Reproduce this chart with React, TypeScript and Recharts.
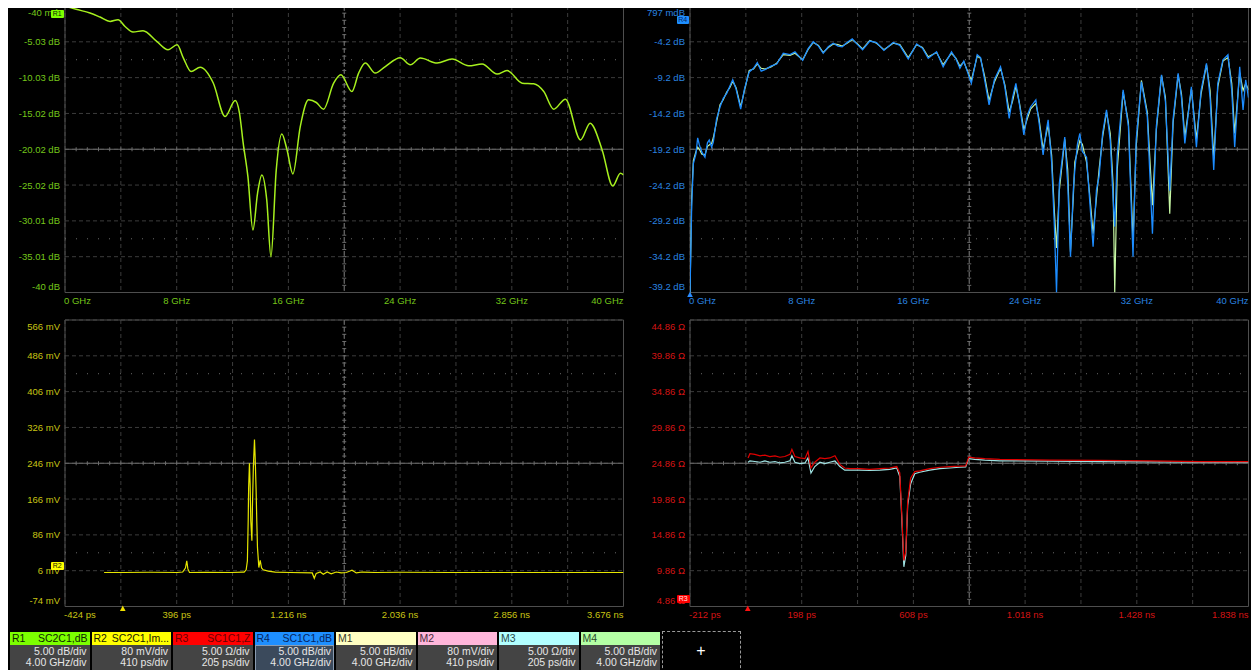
import { LineChart, Line, XAxis, YAxis, CartesianGrid, ReferenceLine, ReferenceArea } from 'recharts';

const FONT = '"Liberation Sans", Arial, sans-serif';

// plot area size shared by all four grids
const PLOT_W = 558.5;
const PLOT_H = 286.5;
const PAD_L = 60;
const PAD_T = 10;
const PAD_R = 6;
const PAD_B = 20;

// R1: SC2C1 magnitude, dB vs GHz
const r1Freq = [0, 0.8, 1.79, 2.51, 3.23, 3.8, 4.3, 4.87, 5.59, 6.57, 7.38, 8.03, 8.48, 9.03, 9.68, 10.61, 11.47, 12.19, 12.5, 12.76, 13.1, 13.46, 13.79, 14.1, 14.45, 14.75, 15.13, 15.53, 15.9, 16.32, 16.85, 17.44, 18.0, 18.52, 19.24, 19.76, 20.55, 21.03, 21.51, 22.22, 22.94, 24.01, 24.73, 25.45, 26.65, 27.72, 28.91, 29.87, 30.95, 31.66, 32.74, 33.57, 34.29, 35.0, 35.84, 36.92, 37.61, 38.47, 39.23, 39.78, 40];
const r1Db = [-0.05, -0.5, -1.02, -1.58, -2.19, -1.96, -2.9, -3.67, -3.49, -4.98, -6.15, -5.45, -7.3, -9.18, -8.59, -10.75, -15.46, -13.23, -15.0, -19.13, -23.84, -31.28, -26.16, -23.6, -27.1, -35.0, -22.9, -17.88, -20.1, -23.46, -16.86, -13.13, -13.5, -14.43, -10.8, -9.64, -11.97, -9.4, -8.0, -9.4, -8.48, -7.26, -8.24, -7.3, -8.0, -7.44, -8.38, -8.14, -9.54, -9.04, -10.8, -10.89, -11.97, -14.43, -13.03, -18.72, -16.38, -20.11, -25.14, -23.37, -23.6];

// R4 and M4: SC1C1 magnitude, dB vs GHz
const r4Freq = [0, 0.12, 0.24, 0.43, 0.55, 0.67, 0.85, 1.07, 1.25, 1.38, 1.55, 1.67, 1.9, 2.15, 2.38, 2.63, 2.85, 3.06, 3.3, 3.63, 3.9, 4.24, 4.55, 4.82, 5.1, 5.37, 5.8, 6.21, 6.68, 7.16, 7.52, 8.07, 8.45, 8.83, 9.2, 9.54, 9.9, 10.26, 10.6, 10.9, 11.25, 11.62, 12.0, 12.36, 12.88, 13.36, 13.89, 14.55, 15.03, 15.63, 16.23, 16.65, 17.06, 17.66, 18.13, 18.73, 19.05, 19.33, 19.61, 20.15, 20.57, 20.81, 21.1, 21.42, 21.8, 22.24, 22.55, 22.86, 23.1, 23.34, 23.6, 23.91, 24.15, 24.39, 24.77, 25.0, 25.29, 25.5, 25.65, 25.9, 26.1, 26.25, 26.45, 26.84, 27.05, 27.25, 27.45, 27.56, 27.75, 27.92, 28.1, 28.4, 28.65, 28.87, 29.11, 29.3, 29.55, 29.83, 30.1, 30.3, 30.42, 30.6, 31.02, 31.4, 31.73, 31.95, 32.33, 32.75, 33.12, 33.4, 33.77, 34.05, 34.36, 34.6, 34.96, 35.2, 35.44, 35.91, 36.27, 36.6, 36.99, 37.25, 37.51, 37.8, 38.17, 38.53, 38.8, 39.01, 39.37, 39.61, 39.8, 40];
const r4Db = [-39.2, -27.2, -21.2, -19.8, -17.6, -18.6, -19.6, -20.3, -18.3, -17.9, -18.9, -18.2, -15.0, -13.3, -12.1, -11.4, -10.4, -9.5, -10.8, -13.6, -10.8, -8.4, -7.9, -7.1, -8.3, -8.1, -7.6, -7.3, -5.8, -6.0, -5.6, -6.8, -5.2, -4.2, -4.8, -5.8, -4.9, -4.4, -4.8, -4.9, -4.3, -3.8, -4.6, -5.3, -4.1, -4.3, -5.4, -4.3, -4.7, -6.6, -4.5, -5.1, -6.5, -5.6, -7.7, -5.6, -6.6, -7.9, -6.9, -10.0, -6.0, -6.4, -9.5, -13.0, -9.5, -7.7, -10.5, -14.9, -12.0, -10.0, -13.0, -17.2, -14.5, -13.3, -12.3, -15.5, -20.0, -16.8, -15.1, -21.0, -30.0, -39.2, -24.0, -17.5, -24.0, -34.2, -25.0, -22.1, -18.5, -17.0, -19.5, -20.3, -27.0, -32.8, -24.9, -23.0, -17.0, -13.7, -18.0, -26.0, -30.0, -20.0, -10.9, -16.0, -34.2, -18.0, -9.8, -14.5, -31.0, -16.0, -8.8, -12.5, -25.0, -15.0, -8.6, -12.0, -18.4, -10.5, -18.9, -11.0, -7.2, -12.0, -22.1, -10.0, -6.7, -6.0, -11.0, -18.9, -7.7, -13.7, -9.5, -12.0];
const m4Db = [-39.2, -26.0, -20.8, -19.5, -18.9, -19.2, -19.9, -20.0, -18.8, -18.6, -18.4, -17.6, -15.4, -13.0, -12.3, -11.2, -10.6, -9.7, -10.6, -13.3, -11.0, -8.2, -8.0, -7.3, -7.9, -8.0, -7.7, -7.2, -6.0, -6.1, -5.8, -6.7, -5.3, -4.3, -4.7, -5.7, -5.0, -4.5, -4.6, -4.8, -4.4, -3.9, -4.5, -5.2, -4.0, -4.4, -5.3, -4.4, -4.6, -6.4, -4.6, -5.0, -6.3, -5.7, -7.4, -5.8, -6.5, -7.6, -7.0, -9.6, -6.2, -6.5, -9.0, -12.4, -9.8, -7.9, -10.2, -14.0, -12.5, -10.4, -12.8, -16.5, -15.0, -13.6, -12.8, -15.0, -19.2, -17.2, -15.8, -20.0, -28.0, -33.0, -25.0, -17.8, -22.0, -33.5, -26.0, -21.0, -19.5, -18.0, -18.5, -21.0, -26.0, -31.0, -26.0, -22.0, -17.5, -14.0, -17.0, -24.0, -39.2, -22.0, -11.2, -15.5, -32.0, -19.0, -9.6, -14.0, -27.0, -16.5, -8.9, -12.0, -28.2, -15.5, -8.8, -11.5, -17.5, -10.8, -17.8, -11.5, -7.4, -11.0, -20.5, -10.5, -6.9, -6.4, -10.0, -17.0, -8.5, -11.0, -10.0, -10.9];

// R2: SC2C1 impulse response, mV vs ps
const r2Time = [-137, 0, 200, 400, 440, 460, 470, 478, 490, 600, 800, 880, 891, 906, 915, 921, 924, 930, 935, 940, 948, 952, 959, 967, 972, 979, 984, 989, 999, 1009, 1019, 1031, 1068, 1119, 1229, 1391, 1406, 1420, 1450, 1472, 1501, 1530, 1567, 1604, 1641, 1683, 1714, 1758, 1854, 2038, 2405, 2772, 3140, 3676];
const r2Mv = [2, 2, 2.5, 2, 3, 12, 28, 10, 2, 2.5, 2, 3, 3, 8, 28, 120, 190, 246, 200, 117, 73, 150, 240, 299, 260, 185, 117, 58, 13, 29, 12, 8, 5, 3, 2, 1, -11, 0, 3, -2, 3, -1, 3, 1, 2, 7, 1, 3, 2, 2.5, 2, 2, 2, 2];

// R3 and M3: SC1C1 impedance profile, ohm vs ps
const r3Time = [1, 8, 26, 45, 63, 81, 100, 118, 136, 155, 162, 173, 191, 210, 221, 232, 246, 265, 283, 301, 320, 338, 356, 375, 411, 448, 485, 521, 547, 558, 565, 573, 580, 587, 598, 613, 631, 668, 705, 741, 778, 800, 811, 833, 870, 925, 1108, 1291, 1475, 1658, 1838];
const r3Ohm = [25.6, 26.2, 26.1, 25.9, 26.0, 25.8, 25.9, 25.7, 25.8, 26.1, 26.8, 25.8, 25.6, 25.5, 26.5, 24.2, 25.0, 25.6, 25.5, 25.6, 25.9, 24.7, 24.2, 24.1, 24.1, 24.0, 24.1, 24.2, 24.4, 23.5, 18.0, 11.3, 12.5, 19.5, 22.8, 23.7, 23.8, 24.1, 24.3, 24.4, 24.45, 24.5, 25.7, 25.6, 25.5, 25.4, 25.3, 25.25, 25.2, 25.1, 25.1];
const m3Ohm = [25.0, 25.2, 25.1, 25.0, 25.2, 25.0, 25.1, 24.9, 25.0, 25.2, 25.9, 25.0, 24.8, 24.9, 25.6, 23.5, 24.4, 25.0, 24.8, 25.0, 25.2, 24.4, 23.9, 23.9, 23.9, 23.85, 23.9, 24.0, 24.2, 23.0, 17.5, 10.4, 12.0, 19.0, 22.0, 23.4, 23.6, 23.9, 24.1, 24.2, 24.3, 24.35, 25.5, 25.4, 25.3, 25.2, 25.15, 25.1, 25.05, 25.0, 25.0];

// graticule divisions and labels
const freqTicks = [0, 4, 8, 12, 16, 20, 24, 28, 32, 36, 40];
const freqLabels = ['0 GHz', '', '8 GHz', '', '16 GHz', '', '24 GHz', '', '32 GHz', '', '40 GHz'];
const r2TimeTicks = [-424, -14, 396, 806, 1216, 1626, 2036, 2446, 2856, 3266, 3676];
const r2TimeLabels = ['-424 ps', '', '396 ps', '', '1.216 ns', '', '2.036 ns', '', '2.856 ns', '', '3.676 ns'];
const r3TimeTicks = [-212, -7, 198, 403, 608, 813, 1018, 1223, 1428, 1633, 1838];
const r3TimeLabels = ['-212 ps', '', '198 ps', '', '608 ps', '', '1.018 ns', '', '1.428 ns', '', '1.838 ns'];

const r1Ticks = [-0.04, -5.035, -10.03, -15.025, -20.02, -25.015, -30.01, -35.005, -40];
const r1Labels = ['-40 mdB', '-5.03 dB', '-10.03 dB', '-15.02 dB', '-20.02 dB', '-25.02 dB', '-30.01 dB', '-35.01 dB', '-40 dB'];
const r4Ticks = [0.797, -4.2, -9.2, -14.2, -19.2, -24.2, -29.2, -34.2, -39.2];
const r4Labels = ['797 mdB', '-4.2 dB', '-9.2 dB', '-14.2 dB', '-19.2 dB', '-24.2 dB', '-29.2 dB', '-34.2 dB', '-39.2 dB'];
const r2Ticks = [566, 486, 406, 326, 246, 166, 86, 6, -74];
const r2Labels = ['566 mV', '486 mV', '406 mV', '326 mV', '246 mV', '166 mV', '86 mV', '6 mV', '-74 mV'];
const r3Ticks = [44.86, 39.86, 34.86, 29.86, 24.86, 19.86, 14.86, 9.86, 4.86];
const r3Labels = ['44.86 Ω', '39.86 Ω', '34.86 Ω', '29.86 Ω', '24.86 Ω', '19.86 Ω', '14.86 Ω', '9.86 Ω', '4.86 Ω'];

// channel descriptor strip
const chanIds = ['R1', 'R2', 'R3', 'R4', 'M1', 'M2', 'M3', 'M4'];
const chanSources = ['SC2C1,dB', 'SC2C1,Im...', 'SC1C1,Z', 'SC1C1,dB', '', '', '', ''];
const chanVertical = ['5.00 dB/div', '80 mV/div', '5.00 Ω/div', '5.00 dB/div', '5.00 dB/div', '80 mV/div', '5.00 Ω/div', '5.00 dB/div'];
const chanHorizontal = ['4.00 GHz/div', '410 ps/div', '205 ps/div', '4.00 GHz/div', '4.00 GHz/div', '410 ps/div', '205 ps/div', '4.00 GHz/div'];

const chanHeadBg = ['#7cff00', '#ffff00', '#ff0000', '#1e8fff', '#ffffc2', '#ffb6da', '#b2ffff', '#b4ffa4'];
const chanHeadFg = ['#0e2600', '#1a1a00', '#6a0000', '#06245e', '#3a3a2a', '#4a2a3a', '#2a4a4a', '#2a4a2a'];

const r1Rows = r1Freq.map((f, i) => ({ f, r1: r1Db[i] }));
const r4Rows = r4Freq.map((f, i) => ({ f, r4: r4Db[i], m4: m4Db[i] }));
const r2Rows = r2Time.map((t, i) => ({ t, r2: r2Mv[i] }));
const r3Rows = r3Time.map((t, i) => ({ t, r3: r3Ohm[i], m3: m3Ohm[i] }));

const GRID = '#3c3c3c';
const CENTER = '#6c6c6c';

// center graticule line with minor ticks (5 per division)
const centerH = (p: any) => {
  const { x1, x2, y1 } = p;
  const n = 50;
  const step = (x2 - x1) / n;
  const marks = [];
  for (let i = 1; i < n; i++) {
    const x = x1 + i * step;
    marks.push(<line key={i} x1={x} x2={x} y1={y1 - 2} y2={y1 + 2} stroke={CENTER} />);
  }
  return (
    <g>
      <line x1={x1} x2={x2} y1={y1} y2={y1} stroke={CENTER} />
      {marks}
    </g>
  );
};

const centerV = (p: any) => {
  const { x1, y1, y2 } = p;
  const top = Math.min(y1, y2);
  const bot = Math.max(y1, y2);
  const n = 40;
  const step = (bot - top) / n;
  const marks = [];
  for (let i = 1; i < n; i++) {
    const y = top + i * step;
    marks.push(<line key={i} x1={x1 - 2} x2={x1 + 2} y1={y} y2={y} stroke={CENTER} />);
  }
  return (
    <g>
      <line x1={x1} x2={x1} y1={top} y2={bot} stroke={CENTER} strokeDasharray="5 2" />
      {marks}
    </g>
  );
};

const bottomTriangle = (color: string) => (p: any) => {
  const x = p.x1;
  const y = Math.max(p.y1, p.y2);
  return <path d={`M${x} ${y - 1}L${x + 2.8} ${y + 4.5}L${x - 2.8} ${y + 4.5}Z`} fill={color} />;
};

type Series = { key: string; color: string; width: number; curve: 'linear' | 'monotone' };

type PanelProps = {
  left: number;
  top: number;
  rows: any[];
  xKey: string;
  xDomain: [number, number];
  xTicks: number[];
  xLabels: string[];
  yDomain: [number, number];
  yTicks: number[];
  yLabels: string[];
  color: string;
  series: Series[];
  marker?: { at: number; color: string };
  topLabelDx?: number;
};

const Panel = ({ left, top, rows, xKey, xDomain, xTicks, xLabels, yDomain, yTicks, yLabels, color, series, marker, topLabelDx = 0 }: PanelProps) => {
  const xMid = (xDomain[0] + xDomain[1]) / 2;
  const yMid = yTicks[4];
  const div = (yTicks[0] - yTicks[8]) / 8;
  const dots = [yTicks[0] - 1.5 * div, yTicks[0] - 6.5 * div];

  const xTick = (p: any) => {
    const i = xTicks.indexOf(p.payload.value);
    const last = xTicks.length - 1;
    const anchor = i === 0 ? 'start' : i === last ? 'end' : 'middle';
    return (
      <text x={p.x + (i === 0 ? -1 : 0)} y={p.y + 7.5} textAnchor={anchor} dominantBaseline="central" fill={color} fontSize={9.5} fontFamily={FONT}>
        {xLabels[i]}
      </text>
    );
  };

  const yTick = (p: any) => {
    const i = yTicks.indexOf(p.payload.value);
    const last = yTicks.length - 1;
    const dy = i === 0 ? 6.5 : i === last ? -6.5 : 0;
    const dx = i === 0 ? topLabelDx : 0;
    return (
      <text x={p.x - 5 + dx} y={p.y + dy} textAnchor="end" dominantBaseline="central" fill={color} fontSize={9.5} fontFamily={FONT}>
        {yLabels[i]}
      </text>
    );
  };

  return (
    <div style={{ position: 'absolute', left: left - PAD_L - 8, top: top - PAD_T - 8 }}>
      <LineChart
        width={PAD_L + PLOT_W + PAD_R}
        height={PAD_T + PLOT_H + PAD_B}
        data={rows}
        margin={{ top: PAD_T, right: PAD_R, bottom: 0, left: 0 }}
      >
        <CartesianGrid stroke={GRID} strokeDasharray="4 3" />
        <XAxis
          type="number"
          dataKey={xKey}
          domain={xDomain}
          ticks={xTicks}
          interval={0}
          allowDataOverflow
          height={PAD_B}
          axisLine={false}
          tickLine={false}
          tickSize={0}
          tickMargin={0}
          tick={xTick}
        />
        <YAxis
          type="number"
          domain={yDomain}
          ticks={yTicks}
          interval={0}
          allowDataOverflow
          width={PAD_L}
          axisLine={false}
          tickLine={false}
          tickSize={0}
          tickMargin={0}
          tick={yTick}
        />
        <ReferenceArea x1={xDomain[0]} x2={xDomain[1]} y1={yDomain[0]} y2={yDomain[1]} fill="none" fillOpacity={0} stroke="#4e4e4e" />
        {dots.map((v) => (
          <ReferenceLine key={v} y={v} stroke="#6a6a6a" strokeDasharray="1 10" />
        ))}
        <ReferenceLine y={yMid} shape={centerH} />
        <ReferenceLine x={xMid} shape={centerV} />
        {marker && <ReferenceLine x={marker.at} shape={bottomTriangle(marker.color)} />}
        {series.map((s) => (
          <Line
            key={s.key}
            dataKey={s.key}
            type={s.curve}
            stroke={s.color}
            strokeWidth={s.width}
            dot={false}
            activeDot={false}
            isAnimationActive={false}
          />
        ))}
      </LineChart>
    </div>
  );
};

const Badge = ({ left, top, bg, fg, text }: { left: number; top: number; bg: string; fg: string; text: string }) => (
  <div
    style={{
      position: 'absolute',
      left: left - 8,
      top: top - 8,
      width: 12.5,
      height: 8,
      background: bg,
      color: fg,
      fontFamily: FONT,
      fontSize: 7,
      lineHeight: '8px',
      textAlign: 'center',
      borderRadius: 1,
    }}
  >
    {text}
  </div>
);

const ChannelStrip = () => (
  <>
    {chanIds.map((id, i) => {
      const selected = id === 'R4';
      return (
        <div
          key={id}
          style={{ position: 'absolute', left: 2 + i * 81.5, top: 623.5, width: 79.5, height: 40, fontFamily: FONT, fontSize: 10.5 }}
        >
          <div
            style={{
              height: 13,
              lineHeight: '13px',
              background: chanHeadBg[i],
              color: chanHeadFg[i],
              display: 'flex',
              justifyContent: 'space-between',
              padding: '0 2px',
              whiteSpace: 'nowrap',
              overflow: 'hidden',
            }}
          >
            <span>{id}</span>
            <span>{chanSources[i]}</span>
          </div>
          <div
            style={{
              height: 27,
              boxSizing: 'border-box',
              background: selected ? '#3b4a5c' : '#444444',
              border: selected ? '1px solid #8a9bb0' : 'none',
              color: '#e6e6e6',
              textAlign: 'right',
              padding: selected ? '0 2px 0 0' : '1px 3px 0 0',
              lineHeight: '11.5px',
              whiteSpace: 'nowrap',
            }}
          >
            <div>{chanVertical[i]}</div>
            <div>{chanHorizontal[i]}</div>
          </div>
        </div>
      );
    })}
    <div
      style={{
        position: 'absolute',
        left: 653.5,
        top: 623,
        width: 79,
        height: 42,
        boxSizing: 'border-box',
        border: '1px dashed #9a9a9a',
        color: '#ffffff',
        fontFamily: FONT,
        fontSize: 16,
        lineHeight: '38px',
        textAlign: 'center',
      }}
    >
      +
    </div>
  </>
);

export default function App() {
  return (
    <div style={{ position: 'absolute', left: 8, top: 8, width: 1243, height: 662, background: '#000', overflow: 'hidden' }}>
      <Panel
        left={65}
        top={6}
        rows={r1Rows}
        xKey="f"
        xDomain={[0, 40]}
        xTicks={freqTicks}
        xLabels={freqLabels}
        yDomain={[-40, -0.04]}
        yTicks={r1Ticks}
        yLabels={r1Labels}
        color="#74c61a"
        topLabelDx={4}
        series={[{ key: 'r1', color: '#a6f01e', width: 1.5, curve: 'monotone' }]}
      />
      <Panel
        left={690}
        top={6}
        rows={r4Rows}
        xKey="f"
        xDomain={[0, 40]}
        xTicks={freqTicks}
        xLabels={freqLabels}
        yDomain={[-39.2, 0.797]}
        yTicks={r4Ticks}
        yLabels={r4Labels}
        color="#2a84e0"
        marker={{ at: 0, color: '#2a8cff' }}
        series={[
          { key: 'm4', color: '#c6f7a4', width: 1.2, curve: 'linear' },
          { key: 'r4', color: '#1c8cff', width: 1.3, curve: 'linear' },
        ]}
      />
      <Panel
        left={65}
        top={319.5}
        rows={r2Rows}
        xKey="t"
        xDomain={[-424, 3676]}
        xTicks={r2TimeTicks}
        xLabels={r2TimeLabels}
        yDomain={[-74, 566]}
        yTicks={r2Ticks}
        yLabels={r2Labels}
        color="#c8c414"
        marker={{ at: 0, color: '#f0e000' }}
        series={[{ key: 'r2', color: '#e6e600', width: 1.2, curve: 'linear' }]}
      />
      <Panel
        left={690}
        top={319.5}
        rows={r3Rows}
        xKey="t"
        xDomain={[-212, 1838]}
        xTicks={r3TimeTicks}
        xLabels={r3TimeLabels}
        yDomain={[4.86, 44.86]}
        yTicks={r3Ticks}
        yLabels={r3Labels}
        color="#d41414"
        marker={{ at: 0, color: '#ff1010' }}
        series={[
          { key: 'm3', color: '#9fe3e3', width: 1.2, curve: 'linear' },
          { key: 'r3', color: '#e00000', width: 1.2, curve: 'linear' },
        ]}
      />

      <Badge left={51} top={10} bg="#7cff00" fg="#0e2600" text="R1" />
      <Badge left={676.5} top={16} bg="#1e8fff" fg="#06245e" text="R4" />
      <Badge left={51} top={562} bg="#ffff00" fg="#1a1a00" text="R2" />
      <Badge left={677} top={595} bg="#ff0000" fg="#ffe0e0" text="R3" />

      <ChannelStrip />
    </div>
  );
}
